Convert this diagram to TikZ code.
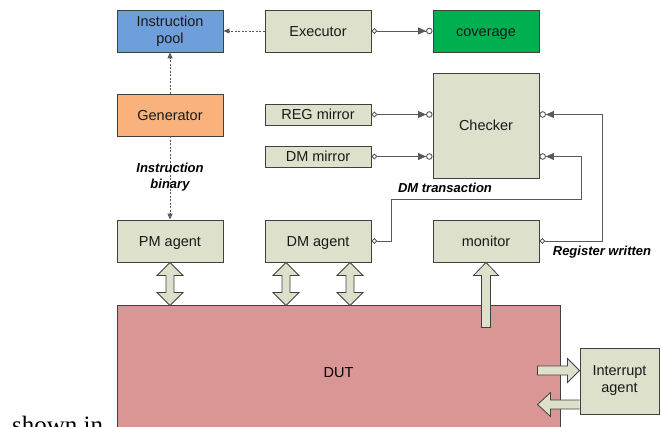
\documentclass[tikz,border=0pt]{standalone}
\usepackage{fontspec}
\setmainfont{Liberation Sans}
\newfontfamily\serifface{Liberation Serif}
\usetikzlibrary{arrows.meta,calc}

\definecolor{boxfill}{HTML}{DDE1CC}
\definecolor{edge}{HTML}{404040}
\definecolor{wirec}{HTML}{595959}
\definecolor{poolblue}{HTML}{6F9FDA}
\definecolor{genorange}{HTML}{F9B27C}
\definecolor{covgreen}{HTML}{00B050}
\definecolor{dutred}{HTML}{D99694}

\tikzset{
  blk/.style={draw=edge, line width=0.9pt, fill=boxfill, minimum width=106pt,
    minimum height=42pt, inner sep=0pt, align=center,
    font=\fontsize{14.5}{17}\selectfont, text=black!90},
  oneline/.style={text height=10.5pt, text depth=0pt},
  slim/.style={blk, oneline, minimum height=21pt},
  wire/.style={draw=wirec, line width=0.9pt},
  ctrl/.style={wire, dash pattern=on 2pt off 1.5pt, -{Triangle[length=6pt,width=5pt]}},
  port/.style={wire, {Diamond[open,length=6pt,width=6pt]}-{Triangle[length=8pt,width=7pt]Circle[open,length=6.5pt,width=6.5pt]}},
  tag/.style={font=\fontsize{13}{16}\selectfont\bfseries\itshape, align=center, inner sep=0pt},
  barrow/.style={draw=edge, line width=0.8pt, fill=boxfill, line join=miter},
}

\begin{document}
\begin{tikzpicture}[x=1pt, y=-1pt]
  \useasboundingbox (0,0) rectangle (661,427);
  \clip (0,0) rectangle (661,427);

  % top row
  \node[blk, fill=poolblue] (pool) at (170,31) {Instruction\\pool};
  \node[blk, oneline] (exec) at (318,31) {Executor};
  \node[blk, oneline, fill=covgreen] (cov) at (486,31) {coverage};

  % generator, mirrors and checker
  \node[blk, oneline, fill=genorange] (gen) at (170,115) {Generator};
  \node[slim] (regm) at (318,114.5) {REG mirror};
  \node[slim] (dmm) at (318,156.5) {DM mirror};
  \node[blk, oneline, minimum height=105pt] (chk) at (486,125.5) {Checker};

  % agents and monitor
  \node[blk, oneline] (pm) at (170,241) {PM agent};
  \node[blk, oneline] (dma) at (318,241) {DM agent};
  \node[blk, oneline] (mon) at (486,241) {monitor};

  % design under test
  \node[draw=edge, line width=0.9pt, fill=dutred, minimum width=443pt,
        minimum height=134pt, inner sep=0pt, oneline, font=\fontsize{14.5}{17}\selectfont]
        (dut) at (338.5,372) {DUT};

  % stimulus flow
  \draw[ctrl] (exec.west) -- (pool.east);
  \draw[ctrl] (gen.north) -- (pool.south);
  \draw[ctrl] (gen.south) -- (pm.north);
  \node[tag] (ibin) at (170,177) {Instruction\\binary};

  % transaction ports
  \draw[port] (exec.east) -- (cov.west);
  \draw[port] (regm.east) -- (regm.east -| chk.west);
  \draw[port] (dmm.east) -- (dmm.east -| chk.west);
  \coordinate (dmin) at (dmm.east -| chk.east);
  \coordinate (regin) at (regm.east -| chk.east);
  \draw[port] (dma.east) -- ++(20,0) -- ++(0,-42) -| ($(dmin)+(42,0)$) -- (dmin);
  \draw[port] (mon.east) -- ++(63,0) |- (regin);
  \node[tag] (dmtr) at (445,188) {DM transaction};
  \node[tag] (regw) at (602,252) {Register written};

  % bus connections between agents and DUT
  \draw[barrow] (pm.south) -- ++(13,13) -- ++(-9,0) -- ++(0,17) -- ++(9,0)
    -- ++(-13,13) -- ++(-13,-13) -- ++(9,0) -- ++(0,-17) -- ++(-9,0) -- cycle;
  \draw[barrow] ($(dma.south)+(-32,0)$) -- ++(13,13) -- ++(-9,0) -- ++(0,17) -- ++(9,0)
    -- ++(-13,13) -- ++(-13,-13) -- ++(9,0) -- ++(0,-17) -- ++(-9,0) -- cycle;
  \draw[barrow] ($(dma.south)+(32,0)$) -- ++(13,13) -- ++(-9,0) -- ++(0,17) -- ++(9,0)
    -- ++(-13,13) -- ++(-13,-13) -- ++(9,0) -- ++(0,-17) -- ++(-9,0) -- cycle;
  \draw[barrow] (mon.south) -- ++(12.5,13) -- ++(-8,0) -- ++(0,52) -- ++(-9,0)
    -- ++(0,-52) -- ++(-8,0) -- cycle;

  % interrupt agent
  \node[blk, minimum width=79pt, minimum height=66pt] (intr) at (619.5,381) {Interrupt\\agent};
  \draw[barrow] ($(intr.west)+(0,-10.5)$) -- ++(-12,-12) -- ++(0,7.5) -- ++(-30,0)
    -- ++(0,9) -- ++(30,0) -- ++(0,7.5) -- cycle;
  \draw[barrow] ($(intr.west)+(0,19)$) -- ++(-29,0) -- ++(0,-7.5) -- ++(-13,12)
    -- ++(13,12) -- ++(0,-7.5) -- ++(29,0);

  % running text beside the figure
  \node[anchor=base west, inner sep=0pt, font=\serifface\fontsize{25}{30}\selectfont]
    (shown) at (12,433) {shown in};
\end{tikzpicture}
\end{document}
